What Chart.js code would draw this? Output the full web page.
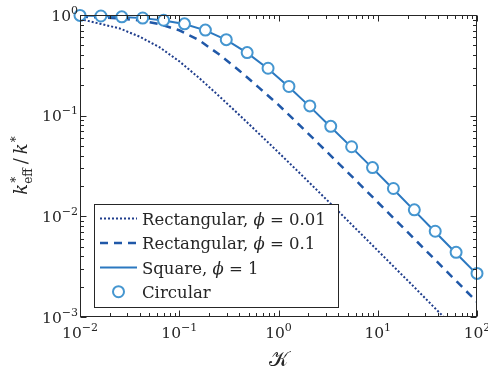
<!DOCTYPE html>
<html>
<head>
<meta charset="utf-8">
<script src="https://cdn.jsdelivr.net/npm/chart.js@4.4.0/dist/chart.umd.min.js"></script>
<style>
  html, body { margin: 0; padding: 0; background: #fff; }
  canvas { display: block; }
</style>
</head>
<body>
<canvas id="chart" width="488" height="374"></canvas>
<script>
// K values for the rectangular curves (every 0.2 decade)
const lineK = [0.01, 0.01585, 0.02512, 0.03981, 0.0631, 0.1, 0.1585, 0.2512, 0.3981, 0.631,
    1, 1.585, 2.512, 3.981, 6.31, 10, 15.85, 25.12, 39.81, 63.1, 100];
const rect001 = [0.912, 0.82, 0.735, 0.61, 0.479, 0.347, 0.237, 0.157, 0.1028, 0.0667,
    0.0431, 0.0277, 0.0177, 0.0113, 0.00719, 0.00457, 0.0029, 0.00184, 0.00116, 0.000735, 0.000463];
const rect01 = [0.959, 0.946, 0.925, 0.883, 0.813, 0.705, 0.562, 0.407, 0.283, 0.191,
    0.128, 0.0826, 0.0531, 0.034, 0.0217, 0.0138, 0.00877, 0.00556, 0.00352, 0.00223, 0.00141];

// K values for square / circular (20 points)
const circK = [0.01, 0.01624, 0.02637, 0.04281, 0.06952, 0.1129, 0.1833, 0.2976, 0.4833, 0.7848,
    1.274, 2.069, 3.36, 5.456, 8.859, 14.38, 23.36, 37.93, 61.58, 100];
const square = [0.99, 0.977, 0.958, 0.931, 0.884, 0.813, 0.703, 0.565, 0.42, 0.293,
    0.193, 0.123, 0.0773, 0.0484, 0.0301, 0.0186, 0.0114, 0.00698, 0.0043, 0.00265];
const circular = [0.991, 0.977, 0.959, 0.933, 0.887, 0.817, 0.708, 0.569, 0.423, 0.296,
    0.195, 0.125, 0.0783, 0.0491, 0.0305, 0.0189, 0.0116, 0.00711, 0.00439, 0.00271];

const xMajor = [0.01, 0.1, 1, 10, 100];
const xExp = ['\u22122', '\u22121', '0', '1', '2'];
const yMajor = [0.001, 0.01, 0.1, 1];
const yExp = ['\u22123', '\u22122', '\u22121', '0'];
const minorSteps = [2, 3, 4, 5, 6, 7, 8, 9];

const legendRows = [
    { text: 'Rectangular, ', phi: true, value: ' = 0.01' },
    { text: 'Rectangular, ', phi: true, value: ' = 0.1' },
    { text: 'Square, ', phi: true, value: ' = 1' },
    { text: 'Circular', phi: false, value: '' }
];

const SERIF = '"DejaVu Serif", "Liberation Serif", serif';
const AXIS = '#262626';
const cDotted = '#1f3d8c';
const cDashed = '#2058a8';
const cSolid = '#2b78c0';
const cCircle = '#4596d0';

function pts(xs, ys) {
    return xs.map((x, i) => ({ x: x, y: ys[i] }));
}

function drawRuns(ctx, runs, x, y, align) {
    let total = 0;
    runs.forEach(r => { ctx.font = r[1]; total += ctx.measureText(r[0]).width; });
    let cx = align === 'center' ? x - total / 2 : align === 'right' ? x - total : x;
    runs.forEach(r => {
        ctx.font = r[1];
        ctx.fillText(r[0], cx, y + (r[2] || 0));
        cx += ctx.measureText(r[0]).width;
    });
    return total;
}

const axesPlugin = {
    id: 'axesPlugin',
    afterDatasetsDraw(chart) {
        const ctx = chart.ctx;
        const xs = chart.scales.x;
        const ys = chart.scales.y;
        const a = chart.chartArea;
        const L = Math.round(a.left) + 0.5, R = Math.round(a.right) - 0.5;
        const T = Math.round(a.top) + 0.5, B = Math.round(a.bottom) - 0.5;

        ctx.save();
        ctx.strokeStyle = AXIS;
        ctx.lineWidth = 1;
        ctx.setLineDash([]);
        ctx.strokeRect(L, T, R - L, B - T);

        // tick marks, inside, all four sides
        const tick = (p, len, horiz) => {
            ctx.beginPath();
            if (horiz) {
                ctx.moveTo(p, B); ctx.lineTo(p, B - len);
                ctx.moveTo(p, T); ctx.lineTo(p, T + len);
            } else {
                ctx.moveTo(L, p); ctx.lineTo(L + len, p);
                ctx.moveTo(R, p); ctx.lineTo(R - len, p);
            }
            ctx.stroke();
        };
        xMajor.forEach((d, i) => {
            tick(Math.round(xs.getPixelForValue(d)) + 0.5, 6, true);
            if (i < xMajor.length - 1) minorSteps.forEach(m => tick(Math.round(xs.getPixelForValue(d * m)) + 0.5, 3.5, true));
        });
        yMajor.forEach((d, i) => {
            tick(Math.round(ys.getPixelForValue(d)) + 0.5, 6, false);
            if (i < yMajor.length - 1) minorSteps.forEach(m => tick(Math.round(ys.getPixelForValue(d * m)) + 0.5, 3.5, false));
        });

        // tick labels
        ctx.fillStyle = '#262626';
        ctx.textBaseline = 'alphabetic';
        const big = '15.5px ' + SERIF, small = '11px ' + SERIF;
        xMajor.forEach((d, i) => {
            drawRuns(ctx, [['10', big], [xExp[i], small, -7]], xs.getPixelForValue(d), 338, 'center');
        });
        yMajor.forEach((d, i) => {
            drawRuns(ctx, [['10', big], [yExp[i], small, -7]], 78, ys.getPixelForValue(d) + 5.5, 'right');
        });

        // x title
        ctx.font = '21px ' + SERIF;
        ctx.textAlign = 'center';
        ctx.fillText('\uD835\uDCA6', (a.left + a.right) / 2, 366);
        ctx.textAlign = 'left';

        // y title: k*_eff / k*
        ctx.save();
        ctx.translate(27, (a.top + a.bottom) / 2);
        ctx.rotate(-Math.PI / 2);
        const itBig = 'italic 18px ' + SERIF;
        const sm2 = '12px ' + SERIF;
        ctx.font = itBig; const wk = ctx.measureText('k').width;
        ctx.font = sm2; const wStar = ctx.measureText('*').width;
        const wEff = ctx.measureText('eff').width;
        ctx.font = '18px ' + SERIF; const wSl = ctx.measureText('/').width;
        const total = wk + Math.max(wStar, wEff) + 4 + wSl + 4 + wk + wStar;
        let cx = -total / 2;
        ctx.font = itBig; ctx.fillText('k', cx, 0); cx += wk;
        ctx.font = sm2; ctx.fillText('*', cx + 1, -7.5); ctx.fillText('eff', cx, 4.5);
        cx += Math.max(wStar, wEff) + 4;
        ctx.font = '18px ' + SERIF; ctx.fillText('/', cx, 0); cx += wSl + 4;
        ctx.font = itBig; ctx.fillText('k', cx, 0); cx += wk;
        ctx.font = sm2; ctx.fillText('*', cx + 1, -7.5);
        ctx.restore();

        // legend
        const bx = 94.5, by = 204.5, bw = 244, bh = 103;
        ctx.fillStyle = '#fff';
        ctx.fillRect(bx, by, bw, bh);
        ctx.strokeStyle = AXIS;
        ctx.lineWidth = 1;
        ctx.strokeRect(bx, by, bw, bh);
        const rowY = [218.5, 243, 267.5, 291.7];
        const lg = '16.5px ' + SERIF, lgIt = 'italic 16.5px ' + SERIF;
        chart.data.datasets.forEach((ds, i) => {
            const y = rowY[i];
            if (ds.showLine === false) {
                ctx.beginPath();
                ctx.arc(118.5, y, ds.pointRadius, 0, Math.PI * 2);
                ctx.fillStyle = ds.pointBackgroundColor;
                ctx.fill();
                ctx.lineWidth = ds.pointBorderWidth;
                ctx.strokeStyle = ds.pointBorderColor;
                ctx.setLineDash([]);
                ctx.stroke();
            } else {
                ctx.beginPath();
                ctx.moveTo(100, y); ctx.lineTo(137, y);
                ctx.lineWidth = ds.borderWidth;
                ctx.strokeStyle = ds.borderColor;
                ctx.setLineDash(ds.borderDash || []);
                ctx.stroke();
            }
            ctx.setLineDash([]);
            ctx.fillStyle = '#262626';
            const row = legendRows[i];
            const runs = [[row.text, lg]];
            if (row.phi) runs.push(['\u03D5', lgIt]);
            if (row.value) runs.push([row.value, lg]);
            drawRuns(ctx, runs, 142, y + 6, 'left');
        });
        ctx.restore();
    }
};

new Chart(document.getElementById('chart'), {
    type: 'line',
    data: {
        datasets: [
            { label: 'Rectangular, \u03D5 = 0.01', data: pts(lineK, rect001), borderColor: cDotted,
              borderWidth: 2, borderDash: [2, 2], pointRadius: 0, fill: false, order: 3 },
            { label: 'Rectangular, \u03D5 = 0.1', data: pts(lineK, rect01), borderColor: cDashed,
              borderWidth: 2.5, borderDash: [8, 6], pointRadius: 0, fill: false, order: 2 },
            { label: 'Square, \u03D5 = 1', data: pts(circK, square), borderColor: cSolid,
              borderWidth: 2, pointRadius: 0, fill: false, order: 1 },
            { label: 'Circular', data: pts(circK, circular), showLine: false, clip: false,
              pointRadius: 5.5, pointBorderWidth: 2, pointBackgroundColor: '#fff',
              pointBorderColor: cCircle, borderColor: cCircle, order: 0 }
        ]
    },
    options: {
        responsive: false,
        animation: false,
        devicePixelRatio: 1,
        layout: { padding: { left: 80, right: 11, top: 15, bottom: 57 } },
        plugins: { legend: { display: false }, tooltip: { enabled: false } },
        scales: {
            x: { type: 'logarithmic', min: 0.01, max: 100, display: false },
            y: { type: 'logarithmic', min: 0.001, max: 1, display: false }
        }
    },
    plugins: [axesPlugin]
});
</script>
</body>
</html>
